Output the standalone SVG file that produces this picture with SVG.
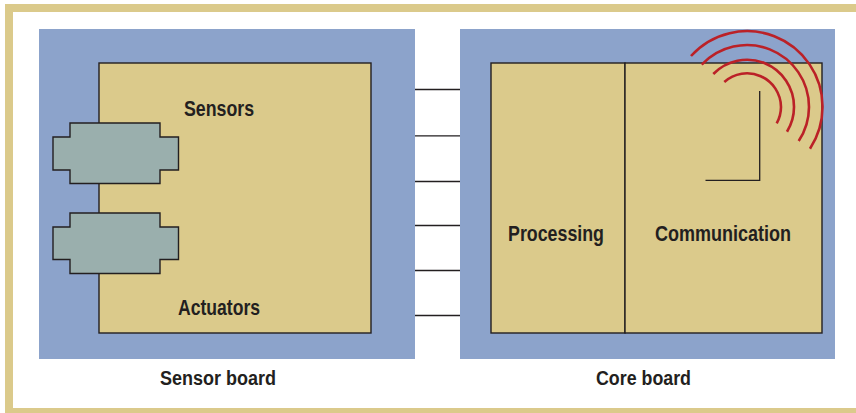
<svg xmlns="http://www.w3.org/2000/svg" width="856" height="413" viewBox="0 0 856 413">
<style>
.frame{fill:#dbca8b}
.board{fill:#8ca3cb}
.panel{fill:#dbca8b;stroke:#231f20;stroke-width:1.4}
.conn{fill:#9aafad;stroke:#231f20;stroke-width:1.4}
.wire{fill:none;stroke:#231f20;stroke-width:1.3}
.wave{fill:none;stroke:#bb2127;stroke-width:2.6}
text{font-family:"Liberation Sans",Arial,sans-serif;font-weight:700;fill:#231f20;text-anchor:middle}
.lbl{font-size:22px}
.cap{font-size:20px}
</style>
<rect width="856" height="413" fill="#fff"/>
<g id="frame" class="frame">
<rect x="5" y="4" width="851" height="8"/>
<rect x="5" y="4" width="8" height="409"/>
<rect x="5" y="408" width="851" height="5"/>
</g>
<g id="sensor-board">
<rect class="board" x="39" y="29" width="376" height="330"/>
<rect class="panel" x="99" y="63" width="272" height="270"/>
<text class="lbl" x="219" y="116" textLength="70" lengthAdjust="spacingAndGlyphs">Sensors</text>
<text class="lbl" x="219" y="315" textLength="82" lengthAdjust="spacingAndGlyphs">Actuators</text>
<text class="cap" x="218" y="385" textLength="116" lengthAdjust="spacingAndGlyphs">Sensor board</text>
</g>
<g id="connector-top">
<path class="conn" d="M70 123H160V137H178.500V170H160V183.500H70V170H53V137H70Z"/>
</g>
<g id="connector-bottom">
<path class="conn" d="M70 213H160V227H178.500V259.500H160V273.500H70V259.500H53V227H70Z"/>
</g>
<g id="core-board">
<rect class="board" x="460" y="29" width="375" height="330"/>
<text class="cap" x="643.500" y="385" textLength="95" lengthAdjust="spacingAndGlyphs">Core board</text>
</g>
<g id="processing">
<rect class="panel" x="491" y="63" width="134" height="270"/>
<text class="lbl" x="556" y="241" textLength="96" lengthAdjust="spacingAndGlyphs">Processing</text>
</g>
<g id="communication">
<rect class="panel" x="625" y="63" width="197" height="270"/>
<text class="lbl" x="723" y="241" textLength="136" lengthAdjust="spacingAndGlyphs">Communication</text>
</g>
<g id="connectors">
<path class="wire" d="M415 89.500H460M415 135.800H460M415 181.500H460M415 225.500H460M415 270.500H460M415 315.500H460"/>
<path class="wire" d="M759.700 91V180.300H705.500"/>
</g>
<g id="antenna-waves">
<path class="wave" d="M724.300 82A34 34 0 0 1 781 107A34 34 0 0 1 776.700 123.300"/>
<path class="wave" d="M713.300 74A47 47 0 0 1 794 107A47 47 0 0 1 787 131.700"/>
<path class="wave" d="M701.700 64.700A62 62 0 0 1 809 107A62 62 0 0 1 798.700 141"/>
<path class="wave" d="M691 56A75.500 75.500 0 0 1 822.500 107A75.500 75.500 0 0 1 810 148.700"/>
</g>
</svg>
